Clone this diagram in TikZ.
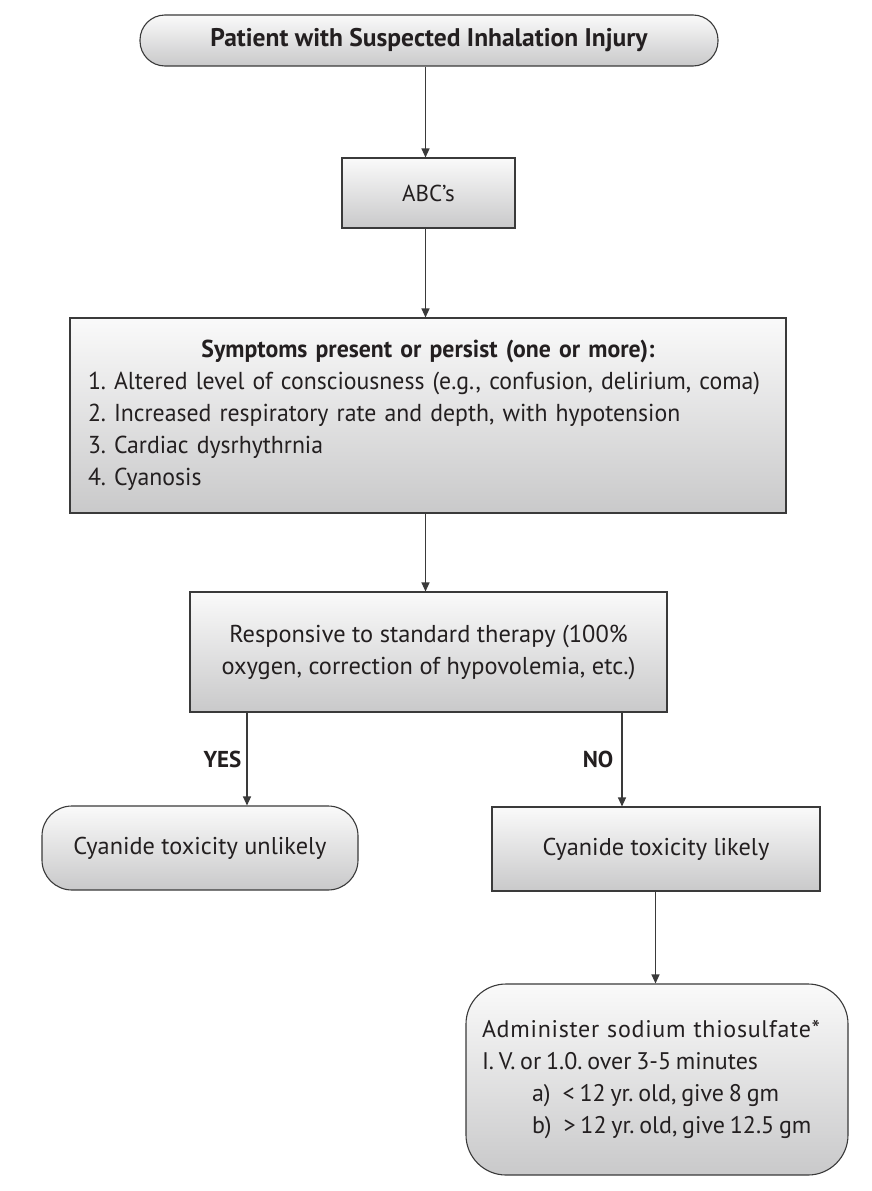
\documentclass[tikz,border=0pt]{standalone}
\usepackage{fontspec}
\setmainfont{PT Sans}
\newfontfamily\symfont[FakeStretch=0.97]{PT Sans}
\newfontfamily\admwide[LetterSpace=3]{PT Sans}
\usetikzlibrary{arrows.meta}
\definecolor{ink}{HTML}{231F20}
\definecolor{edge}{HTML}{3A3A3A}
\definecolor{gtop}{HTML}{FAFAFA}
\definecolor{gbot}{HTML}{C9C9CA}
\begin{document}
\begin{tikzpicture}[x=1pt,y=-1pt,
  box/.style={draw=edge, line width=1.1pt, top color=gtop, bottom color=gbot,
    text=ink, inner sep=0pt, align=center},
  arr/.style={draw=edge, line width=1.2pt, -{Triangle[length=9pt,width=8pt]}},
  lbl/.style={text=ink, font=\bfseries\fontsize{23}{26}\selectfont, inner sep=0pt}]
\frenchspacing
\useasboundingbox[fill=white] (0,0) rectangle (871,1191);

\node[box, rounded corners=25pt, minimum width=578pt, minimum height=51pt,
  font=\bfseries\fontsize{25.5}{28}\selectfont] (top) at (429,40.5)
  {Patient with Suspected Inhalation Injury};

\node[box, minimum width=173pt, minimum height=70pt,
  font=\fontsize{23}{26}\selectfont] (abc) at (428.5,193) {ABC’s};

\node[box, minimum width=716pt, minimum height=195pt, text width=690pt, align=left,
  font=\symfont\fontsize{24.5}{32}\selectfont] (sym) at (428,415.5)
  {\makebox[690pt]{\bfseries Symptoms present or persist (one or more):}\\
   \hspace*{5pt}\makebox[26pt][l]{1.}Altered level of consciousness (e.g., confusion, delirium, coma)\\
   \hspace*{5pt}\makebox[26pt][l]{2.}Increased respiratory rate and depth, with hypotension\\
   \hspace*{5pt}\makebox[26pt][l]{3.}Cardiac dysrhythrnia\\
   \hspace*{5pt}\makebox[26pt][l]{4.}Cyanosis};

\node[box, minimum width=477pt, minimum height=120pt,
  font=\fontsize{24.4}{32}\selectfont] (resp) at (428.5,652)
  {Responsive to standard therapy (100\%\\oxygen, correction of hypovolemia, etc.)};

\node[box, rounded corners=30pt, minimum width=316pt, minimum height=84pt,
  font=\fontsize{24.3}{28}\selectfont] (unl) at (200,848) {Cyanide toxicity unlikely};

\node[box, minimum width=328pt, minimum height=84pt,
  font=\fontsize{24.3}{28}\selectfont] (lik) at (656,849) {Cyanide toxicity likely};

\node[box, rounded corners=40pt, minimum width=382pt, minimum height=191pt,
  text width=350pt, align=left, font=\fontsize{24}{32}\selectfont] (adm) at (657,1079.5)
  {{\admwide Administer sodium thiosulfate*}\\
   \spaceskip=0.2em I. V. or 1.0. over 3-5 minutes\\
   \spaceskip=0.2em \hspace*{50pt}a)\enspace< 12 yr. old, give 8 gm\\
   \spaceskip=0.2em \hspace*{50pt}b)\enspace> 12 yr. old, give 12.5 gm};

\coordinate (cx) at (425.5,0);
\coordinate (yx) at (247,0);
\coordinate (nx) at (622,0);
\coordinate (lx) at (655.5,0);

\draw[arr] (top.south -| cx) -- (abc.north -| cx);
\draw[arr] (abc.south -| cx) -- (sym.north -| cx);
\draw[arr] (sym.south -| cx) -- (resp.north -| cx);
\draw[arr] (resp.south -| yx) -- node[lbl, anchor=east, xshift=-5pt] (yes) {YES} (unl.north -| yx);
\draw[arr] (resp.south -| nx) -- node[lbl, anchor=east, xshift=-8pt] (no) {NO} (lik.north -| nx);
\draw[arr] (lik.south -| lx) -- (adm.north -| lx);
\end{tikzpicture}
\end{document}
